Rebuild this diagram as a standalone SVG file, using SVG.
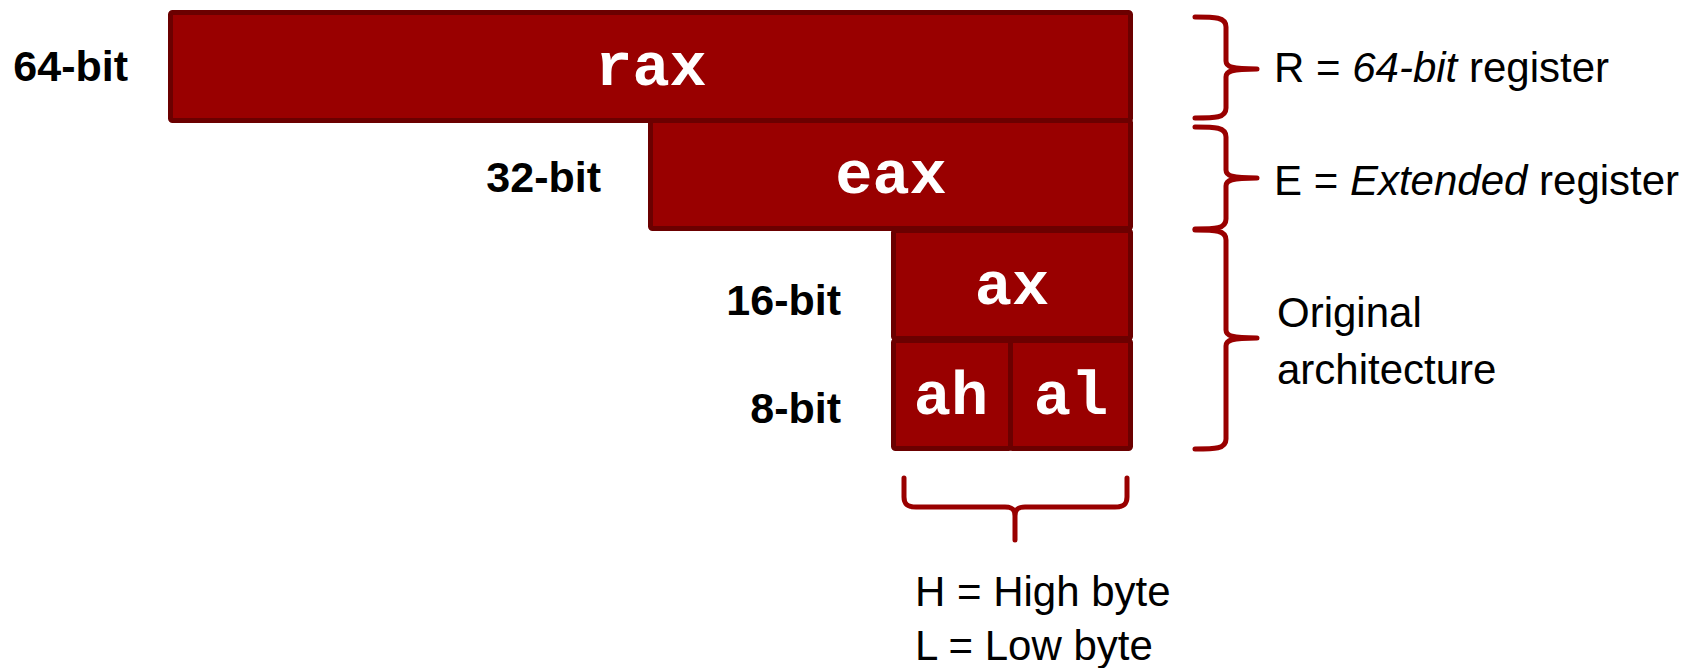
<svg xmlns="http://www.w3.org/2000/svg" width="1700" height="668" viewBox="0 0 1700 668">
<style>
.reg{fill:#990000;stroke:#6b0000;stroke-width:5}
.rt{font-family:"Liberation Mono","Courier New",monospace;font-weight:bold;font-size:62px;fill:#ffffff;text-anchor:middle}
.bl{font-family:"Liberation Sans",Arial,sans-serif;font-weight:bold;font-size:43px;fill:#000;text-anchor:end}
.lb{font-family:"Liberation Sans",Arial,sans-serif;font-size:42px;fill:#000}
.br{fill:none;stroke:#990000;stroke-width:5;stroke-linecap:round;stroke-linejoin:round}
</style>
<rect width="1700" height="668" fill="#ffffff"/>
<g id="rax">
<rect class="reg" x="170.5" y="12.5" width="960" height="108" rx="2"/>
<text class="rt" x="651" y="85">rax</text>
</g>
<g id="eax">
<rect class="reg" x="650.5" y="120.5" width="480" height="108" rx="2"/>
<text class="rt" x="891" y="193">eax</text>
</g>
<g id="ax">
<rect class="reg" x="893.5" y="230.5" width="237" height="108" rx="2"/>
<text class="rt" x="1012" y="304">ax</text>
</g>
<g id="ah">
<rect class="reg" x="893.5" y="340.5" width="117" height="108" rx="2"/>
<text class="rt" x="951" y="414">ah</text>
</g>
<g id="al">
<rect class="reg" x="1010.5" y="340.5" width="120" height="108" rx="2"/>
<text class="rt" x="1071" y="414">al</text>
</g>
<g id="size-labels">
<text class="bl" x="128" y="81">64-bit</text>
<text class="bl" x="601" y="192">32-bit</text>
<text class="bl" x="841" y="315">16-bit</text>
<text class="bl" x="841" y="423">8-bit</text>
</g>
<g id="connectors">
<path class="br" d="M1195,17 C1215,17 1226,17 1226,27 L1226,61 C1226,67 1232,69 1257,69 M1257,69 C1232,69 1226,71 1226,77 L1226,108 C1226,118 1215,118 1195,118"/>
<path class="br" d="M1195,127 C1215,127 1226,127 1226,137 L1226,170 C1226,176 1232,178 1257,178 M1257,178 C1232,178 1226,180 1226,186 L1226,219 C1226,229 1215,229 1195,229"/>
<path class="br" d="M1195,230 C1215,230 1226,230 1226,240 L1226,330 C1226,336 1232,338 1257,338 M1257,338 C1232,338 1226,340 1226,346 L1226,439 C1226,449 1215,449 1195,449"/>
<path class="br" d="M904,478 L904,497 C904,504 907,507 916,507 L1005,507 C1012,507 1015,509 1015,516 L1015,540 M1015,516 C1015,509 1018,507 1025,507 L1115,507 C1124,507 1127,504 1127,497 L1127,478"/>
</g>
<g id="notes">
<text class="lb" x="1274" y="82">R = <tspan font-style="italic">64-bit</tspan> register</text>
<text class="lb" x="1274" y="195">E = <tspan font-style="italic">Extended</tspan> register</text>
<text class="lb" x="1277" y="327">Original</text>
<text class="lb" x="1277" y="384">architecture</text>
<text class="lb" x="915" y="606">H = High byte</text>
<text class="lb" x="915" y="660">L = Low byte</text>
</g>
</svg>
